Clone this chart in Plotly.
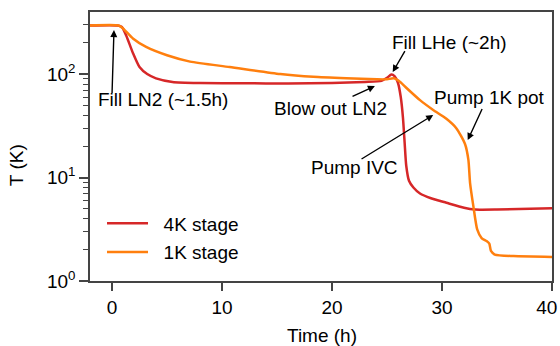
import plotly.graph_objects as go
import math

# ---- data ----
t_4k = [-2, 0.5, 0.9, 1.3, 1.9, 2.5, 3.2, 4.0, 5.5, 8, 12, 16, 20, 23, 24.5,
        25.0, 25.4, 25.7, 26.0, 26.25, 26.45, 26.6, 26.75, 27.0, 27.4, 28.0,
        29.0, 30.4, 32.0, 33.0, 35.0, 40]
T_4k = [295, 295, 285, 235, 160, 117, 100, 91, 84, 82, 81.5, 81, 82, 84, 86,
        92, 99, 95, 82, 60, 38, 22, 13, 9.3, 8.0, 7.0,
        6.3, 5.7, 5.1, 4.9, 4.9, 5.05]

t_1k = [-2, 0.6, 1.0, 1.9, 3.1, 5.0, 7.1, 10.7, 15.3, 18.3, 21.3, 24.1, 25.0,
        25.6, 26.2, 26.8, 28.0, 29.2, 30.4, 31.3, 32.1, 32.4, 32.55, 32.85,
        33.2, 33.6, 34.05, 34.3, 34.45, 34.8, 36.5, 40]
T_1k = [295, 295, 276, 221, 183, 152, 132, 117, 100, 94, 91, 89, 89,
        91, 84, 73, 56, 45, 37, 30, 21, 14.8, 8.9, 5.3,
        3.15, 2.6, 2.43, 2.3, 1.95, 1.80, 1.74, 1.71]

x_ticks = [0, 10, 20, 30, 40]
x_ticktext = ["0", "10", "20", "30", "40\u00a0\u00a0"]
y_tickvals = [1, 10, 100]
y_ticktext = ["10<sup>0</sup>", "10<sup>1</sup>", "10<sup>2</sup>"]
y_minor = [2, 3, 4, 5, 6, 7, 8, 9, 20, 30, 40, 50, 60, 70, 80, 90, 200, 300, 400]

# annotations: (text, text_t, text_T, tail_t, tail_T, head_t, head_T)
notes = [
    ("Fill LN2 (~1.5h)", 4.64, 57.3, 0.0, 62.7, 0.18, 266),
    ("Fill LHe (~2h)", 30.68, 203.7, 26.73, 174.6, 25.52, 104.5),
    ("Blow out LN2", 19.9, 46.9, 21.73, 60.0, 23.9, 76.6),
    ("Pump 1K pot", 34.34, 60.0, 33.73, 48.0, 32.34, 23.0),
    ("Pump IVC", 22.0, 12.4, 22.55, 14.8, 29.2, 40.2),
]

FONT = "Liberation Sans, Arial, sans-serif"
RED = "#d62728"
ORANGE = "#ff7f0e"
AX = "#444444"

fig = go.Figure()
fig.add_trace(go.Scatter(x=t_4k, y=T_4k, mode="lines", name="\u00a0\u00a04K stage",
                         legendgroup="a",
                         line=dict(color=RED, width=2.5, shape="spline", smoothing=0.6)))
fig.add_trace(go.Scatter(x=t_1k, y=T_1k, mode="lines", name="\u00a0\u00a01K stage",
                         legendgroup="b",
                         line=dict(color=ORANGE, width=2.5, shape="spline", smoothing=0.6)))

anns = []
for text, tx, tT, ax_, aT, hx, hT in notes:
    anns.append(dict(x=tx, y=math.log10(tT), xref="x", yref="y", text=text,
                     xanchor="center", yanchor="middle",
                     showarrow=False, font=dict(size=19, color="black", family=FONT)))
    anns.append(dict(x=hx, y=math.log10(hT), xref="x", yref="y",
                     ax=ax_, ay=math.log10(aT), axref="x", ayref="y",
                     text=" ", font=dict(size=1), showarrow=True,
                     arrowhead=2, arrowsize=1, arrowwidth=1.4, arrowcolor="black",
                     standoff=0, startstandoff=0))
anns.append(dict(x=-0.160, y=0.431, xref="paper", yref="paper", text="T (K)",
                 textangle=-90, showarrow=False, xanchor="center", yanchor="middle",
                 font=dict(size=19, color="black", family=FONT)))
anns.append(dict(x=0.503, y=-55 / 269, xref="paper", yref="paper", text="Time (h)",
                 showarrow=False, xanchor="center", yanchor="middle",
                 font=dict(size=19, color="black", family=FONT)))

fig.update_layout(
    width=560, height=346,
    margin=dict(l=90, r=8, t=12, b=65),
    paper_bgcolor="white", plot_bgcolor="white",
    font=dict(family=FONT, size=19, color="black"),
    showlegend=True,
    legend=dict(x=0.026, y=0.285, xanchor="left", yanchor="top",
                bgcolor="rgba(0,0,0,0)", font=dict(size=19),
                traceorder="grouped", tracegroupgap=1, itemwidth=41),
    annotations=anns,
)
fig.update_xaxes(range=[-2, 40], tickvals=x_ticks, ticktext=x_ticktext,
                 ticks="outside", ticklen=8, ticklabeloverflow="allow",
                 tickwidth=1.5, tickcolor=AX, showline=True, linecolor=AX,
                 linewidth=1.5, mirror=True, showgrid=False, zeroline=False,
                 automargin=False, tickfont=dict(size=19))
fig.update_yaxes(type="log", range=[0, 2.6], tickvals=y_tickvals,
                 ticktext=y_ticktext, ticks="outside", ticklen=9, tickwidth=1.5,
                 tickcolor=AX, showline=True, linecolor=AX, linewidth=1.5,
                 mirror=True, showgrid=False, zeroline=False, automargin=False,
                 minor=dict(tickvals=y_minor, ticks="outside", ticklen=5,
                            tickwidth=1.2, tickcolor=AX, showgrid=False),
                 tickfont=dict(size=19))

fig.write_html("out.html", config={"displayModeBar": False},
               post_script="document.body.style.margin='0';")
